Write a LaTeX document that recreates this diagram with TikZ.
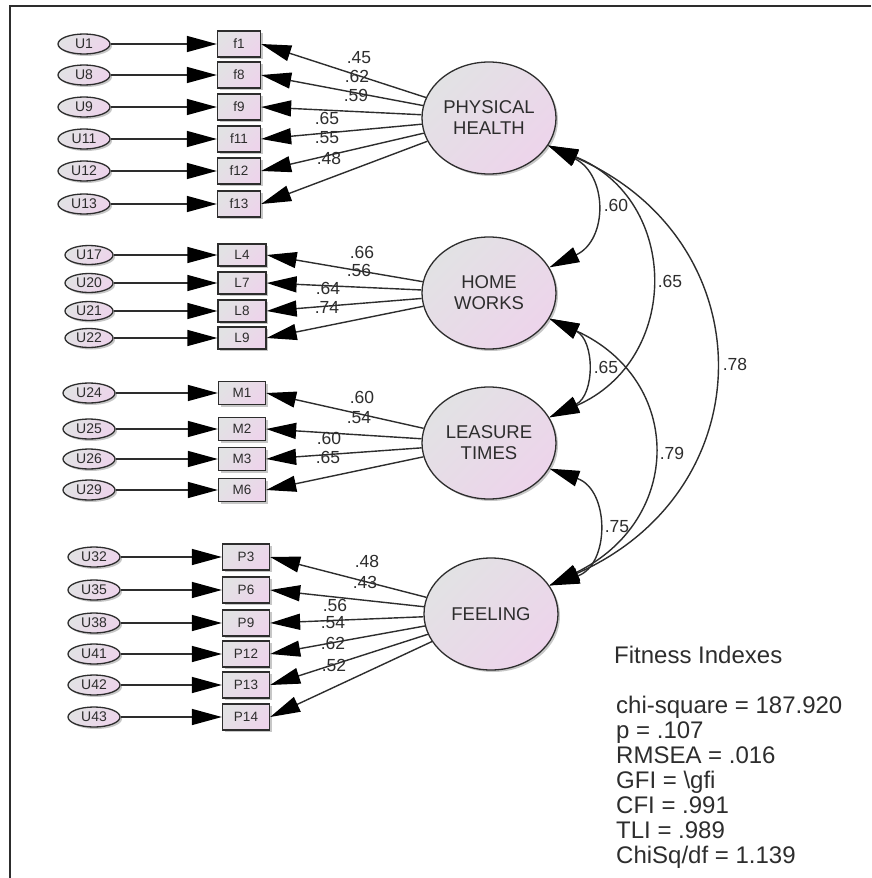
\documentclass[tikz,border=0pt]{standalone}
\usepackage{fontspec}
\setmainfont{Liberation Sans}
\usetikzlibrary{arrows.meta,shapes.geometric,shadows}
\definecolor{latgray}{RGB}{226,226,228}
\definecolor{latpink}{RGB}{237,212,235}
\definecolor{ink}{RGB}{45,45,45}
\begin{document}
\begin{tikzpicture}[x=1pt,y=-1pt,
  shadowed/.style={drop shadow={shadow xshift=2pt,shadow yshift=-2pt,opacity=0.22,fill=black}},
  latent/.style={ellipse, draw=ink, line width=1.3pt, top color=latgray, bottom color=latpink, shading angle=45,
    minimum width=134pt, minimum height=112pt, inner sep=0pt, align=center, text=ink,
    font=\fontsize{18.5}{21}\selectfont, shadowed},
  obs/.style={rectangle, draw=ink, line width=1.3pt, top color=latgray, bottom color=latpink, shading angle=45,
    inner sep=0pt, text=ink, font=\fontsize{13.5}{15}\selectfont, shadowed},
  err/.style={ellipse, draw=ink, line width=1.3pt, top color=latgray, bottom color=latpink, shading angle=45,
    minimum width=52pt, minimum height=20pt, inner sep=0pt, text=ink, font=\fontsize{14}{15}\selectfont, shadowed},
  load/.style={draw=ink, line width=1.4pt, -{Triangle[length=30pt,width=16pt,color=black,fill=black]}},
  cov/.style={draw=ink, line width=1.4pt, {Triangle[length=30pt,width=16pt,color=black,fill=black]}-{Triangle[length=30pt,width=16pt,color=black,fill=black]}},
  coef/.style={font=\fontsize{17.5}{19}\selectfont, text=ink, inner sep=0pt},
  fitline/.style={font=\fontsize{24}{25}\selectfont, text=ink, inner sep=0pt, anchor=base west}
]
\useasboundingbox (0,0) rectangle (871,878);
\fill[white] (0,0) rectangle (871,878);
\draw[line width=1.6pt, ink] (10,878) -- (10,6) -- (871,6);

% latent variables
\node[latent] (PH) at (489,118) {PHYSICAL\\HEALTH};
\node[latent] (HW) at (489,293) {HOME\\WORKS};
\node[latent] (LT) at (489,443) {LEASURE\\TIMES};
\node[latent] (FE) at (491,614) {FEELING};

% group 1
\foreach \u/\b/\y in {U1/f1/44, U8/f8/75, U9/f9/107, U11/f11/139, U12/f12/171, U13/f13/204} {
  \node[err] (\u) at (84,\y) {\u};
  \node[obs, minimum width=43pt, minimum height=26pt] (\b) at (239,\y) {\b};
  \draw[load] (\u) -- (\b);
  \draw[load] (PH) -- (\b.east);
}
% group 2
\foreach \u/\b/\y in {U17/L4/255, U20/L7/283, U21/L8/311, U22/L9/338} {
  \node[err, minimum width=48pt, minimum height=19pt] (\u) at (89,\y) {\u};
  \node[obs, minimum width=48pt, minimum height=22pt] (\b) at (242,\y) {\b};
  \draw[load] (\u) -- (\b);
  \draw[load] (HW) -- (\b.east);
}
% group 3
\foreach \u/\b/\y in {U24/M1/393, U25/M2/429, U26/M3/459, U29/M6/490} {
  \node[err] (\u) at (89,\y) {\u};
  \node[obs, minimum width=47pt, minimum height=23pt] (\b) at (242,\y) {\b};
  \draw[load] (\u) -- (\b);
  \draw[load] (LT) -- (\b.east);
}
% group 4
\foreach \u/\b/\y in {U32/P3/557, U35/P6/590, U38/P9/623, U41/P12/654, U42/P13/685, U43/P14/717} {
  \node[err] (\u) at (94,\y) {\u};
  \node[obs, minimum width=47pt, minimum height=26pt] (\b) at (246,\y) {\b};
  \draw[load] (\u) -- (\b);
  \draw[load] (FE) -- (\b.east);
}

% loading coefficients
\node[coef] (c1) at (359,58) {.45};
\node[coef] (c2) at (357,76) {.62};
\node[coef] (c3) at (356,95) {.59};
\node[coef] (c4) at (327,118) {.65};
\node[coef] (c5) at (327,138) {.55};
\node[coef] (c6) at (329,158) {.48};
\node[coef] (c7) at (362,252) {.66};
\node[coef] (c8) at (359,270) {.56};
\node[coef] (c9) at (328,288) {.64};
\node[coef] (c10) at (327,307) {.74};
\node[coef] (c11) at (362,397) {.60};
\node[coef] (c12) at (359,418) {.54};
\node[coef] (c13) at (329,438) {.60};
\node[coef] (c14) at (328,457) {.65};
\node[coef] (c15) at (367,561) {.48};
\node[coef] (c16) at (365,582) {.43};
\node[coef] (c17) at (335,605) {.56};
\node[coef] (c18) at (333,623) {.54};
\node[coef] (c19) at (333,643) {.62};
\node[coef] (c20) at (334,665) {.52};

% covariances
\draw[cov] (PH.-25) .. controls (608,175) and (608,240) .. (HW.23);
\draw[cov] (PH.-25) .. controls (681,200) and (681,360) .. (LT.23);
\draw[cov] (PH.-25) .. controls (766,240) and (766,490) .. (FE.26);
\draw[cov] (HW.-23) .. controls (595,340) and (595,395) .. (LT.23);
\draw[cov] (HW.-23) .. controls (684,380) and (684,520) .. (FE.26);
\draw[cov] (LT.-23) .. controls (610,490) and (610,565) .. (FE.26);
\node[coef] (r1) at (616,205) {.60};
\node[coef] (r2) at (670,281) {.65};
\node[coef] (r3) at (735,364) {.78};
\node[coef] (r4) at (606,367) {.65};
\node[coef] (r5) at (672,453) {.79};
\node[coef] (r6) at (617,527) {.75};

% fit indexes
\node[fitline] (t0) at (614,663) {Fitness Indexes};
\node[fitline] (t1) at (616,713) {chi-square = 187.920};
\node[fitline] (t2) at (616,738) {p = .107};
\node[fitline] (t3) at (616,763) {RMSEA = .016};
\node[fitline] (t4) at (616,788) {GFI = \textbackslash gfi};
\node[fitline] (t5) at (616,813) {CFI = .991};
\node[fitline] (t6) at (616,838) {TLI = .989};
\node[fitline] (t7) at (616,863) {ChiSq/df = 1.139};
\end{tikzpicture}
\end{document}
